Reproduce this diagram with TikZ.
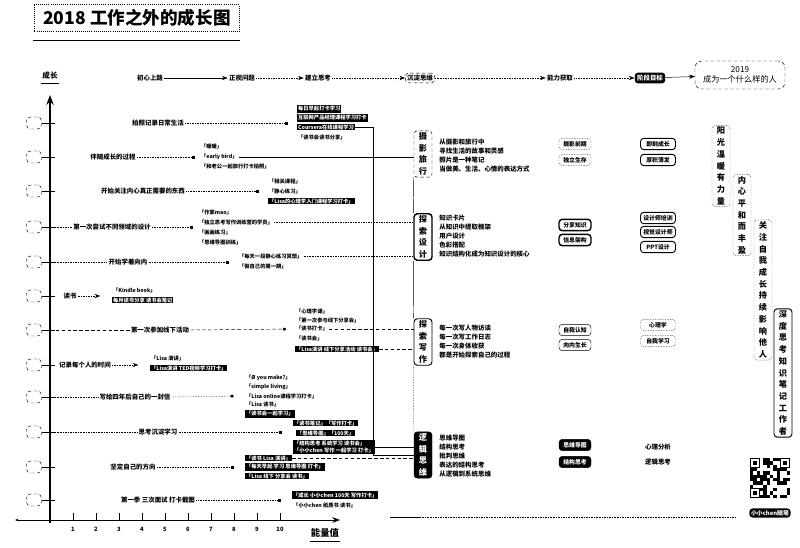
\documentclass[tikz,border=0pt]{standalone}
\usepackage{fontspec}
\setmainfont{Noto Sans CJK SC}
\usetikzlibrary{arrows.meta,positioning}

\begin{document}
\begin{tikzpicture}[x=0.3mm,y=-0.3mm,>=Stealth,
 every node/.style={font=\fontsize{5.5}{6.5}\selectfont,inner sep=1pt},
 icon/.style={draw,densely dashed,rounded corners=1.2mm,minimum width=4.5mm,minimum height=3.6mm},
 row/.style={font=\fontsize{5.5}{6.5}\selectfont\bfseries},
 item/.style={anchor=west,font=\fontsize{4.5}{5.5}\selectfont\bfseries,inner sep=0.8pt},
 blk/.style={item,fill=black,text=white},
 cat/.style={draw,align=center,rounded corners=1mm,inner sep=1.5pt,minimum width=5.4mm,font=\fontsize{7}{10}\selectfont\bfseries},
 tag/.style={draw,rounded corners=1mm,inner sep=1.2pt,minimum width=9.6mm,minimum height=3.4mm,font=\fontsize{5}{6}\selectfont\bfseries},
 lst/.style={anchor=west,align=left,font=\fontsize{5.5}{7.7}\selectfont\bfseries},
 flow/.style={font=\fontsize{5.5}{6.5}\selectfont\bfseries},
 sq/.style={-{Square[length=2.2pt,width=2.2pt]}}]

\useasboundingbox (0,0) rectangle (800,548);

\node[draw,densely dotted,thick,minimum width=61.5mm,minimum height=8mm,font=\fontsize{15}{16}\selectfont\bfseries] (title) at (137,18) {2018 工作之外的成长图};
\draw (33,40) -- (240,40);

\node[flow] (f1) at (150,78) {初心上路};
\node[flow] (f2) at (242,78) {正视问题};
\node[flow] (f3) at (318,78) {建立思考};
\node[flow,draw,densely dashed,rounded corners=1mm,inner sep=1.5pt] (f4) at (420,78) {沉淀思维};
\node[flow] (f5) at (560,78) {能力获取};
\node[flow,fill=black,text=white,rounded corners=1mm,inner sep=2pt] (f6) at (650,78) {阶段目标};
\node[draw,densely dashed,rounded corners=2mm,align=center,minimum width=27mm,minimum height=8.4mm,font=\fontsize{7}{9}\selectfont] (goal) at (740,75) {2019\\成为一个什么样的人};
\draw[->] (f1) -- (f2);
\draw[->,densely dotted] (f2) -- (f3);
\draw[->,densely dotted] (f3) -- (f4);
\draw[->,densely dotted] (f4) -- (f5);
\draw[->,densely dotted] (f5) -- (f6);
\draw[->] (f6) -- (goal);

\node[flow,font=\fontsize{6.5}{8}\selectfont\bfseries] (ylab) at (50,76) {成长};
\draw ([yshift=-2pt]ylab.south west) -- ([yshift=-2pt]ylab.south east);
\draw[->,very thick] (50,523) -- (50,95);
\draw[{Stealth[length=3pt]}-{Stealth},thick] (15,520) -- (340,520);
\foreach \i in {1,...,10} {
 \draw (50+23*\i,513) -- (50+23*\i,520);
 \node[font=\fontsize{5}{6}\selectfont\bfseries] at (50+23*\i,529) {\i};
}
\node[font=\fontsize{8}{9}\selectfont\bfseries] (xlab) at (325,533) {能量值};
\draw[thick] ([yshift=-2pt]xlab.south west) -- ([yshift=-2pt]xlab.south east);

\foreach \y [count=\i] in {123,157,191,227,262,296,330,365,397,432,467,500} {
 \node[icon] (i\i) at (34,\y) {};
 \coordinate (a\i) at (50,\y);
 \draw (i\i.east) -- ([xshift=1.5mm]a\i);
}

\node[row] (r1) at (158,123) {拍照记录日常生活};
\node[blk] (b11) at (297,109) {每日早起打卡学习};
\node[blk] (b12) at (297,118) {互联网产品经理课程学习打卡};
\node[blk] (b13) at (297,127) {Coursera在线课程学习};
\node[item] (l11) at (297,137) {「读书会读书分享」};
\draw[densely dotted,sq,shorten >=8pt] (r1.east) -- (r1.east -| b12.west);

\node[row] (r2) at (113,157) {伴随成长的过程};
\node[item] (l21) at (200,147) {「暖暖」};
\node[item] (l22) at (200,157) {「early bird」};
\node[item] (l23) at (200,167) {「和老公一起旅行打卡拍照」};
\draw[densely dotted,sq,shorten >=5pt] (r2.east) -- (l22.west);

\node[row] (r3) at (143,191) {开始关注内心真正需要的东西};
\node[item] (l31) at (268,181) {「相关课程」};
\node[item] (l32) at (268,191) {「静心练习」};
\node[blk] (b31) at (268,201) {「Lisa的心理学入门课程学习打卡」};
\draw[densely dotted,sq,shorten >=8pt] (r3.east) -- (l32.west);

\node[row] (r4) at (112,227) {第一次尝试不同领域的设计};
\node[item] (l41) at (198,212) {「作家mao」};
\node[item] (l42) at (198,222) {「独立思考写作训练营的学员」};
\node[item] (l43) at (198,232) {「画画练习」};
\node[item] (l44) at (198,242) {「思维导图训练」};
\draw[densely dotted] (a4) -- (r4.west);
\draw[densely dotted,sq,shorten >=5pt] (r4.east) -- (r4.east -| l42.west);

\node[row] (r5) at (128,262) {开始学着向内};
\node[item] (l51) at (238,256) {「每天一段静心练习冥想」};
\node[item] (l52) at (238,266) {「做自己的第一期」};
\draw[densely dotted] (a5) -- (r5.west);
\draw[densely dotted,sq,shorten >=8pt] (r5.east) -- (r5.east -| l51.west);

\node[row] (r6) at (70,296) {读书};
\node[item] (l61) at (112,290) {「Kindle book」};
\node[blk] (b61) at (112,300) {每月读书分享 读书会笔记};
\draw[densely dotted,->,shorten >=10pt] (r6.east) -- (r6.east -| l61.west);

\node[row] (r7) at (160,330) {第一次参加线下活动};
\node[item] (l71) at (295,311) {「心理学课」};
\node[item] (l72) at (295,320) {「第一次参与线下分享会」};
\node[item] (l73) at (295,329) {「读书打卡」};
\node[item] (l74) at (295,338) {「读书会」};
\node[blk] (b71) at (295,349) {「Lisa演讲 线下分享活动 读书会」};
\draw[densely dashed] (a7) -- (r7.west);
\draw[densely dashed,sq,shorten >=8pt] (r7.east) -- (l73.west);

\node[row] (r8) at (85,365) {记录每个人的时间};
\node[item] (l81) at (150,358) {「Lisa 演讲」};
\node[blk] (b81) at (150,368) {「Lisa演讲 TED视频学习打卡」};
\draw[densely dotted,->,shorten >=10pt] (r8.east) -- (r8.east -| l81.west);

\node[row] (r9) at (135,397) {写给四年后自己的一封信};
\node[item] (l91) at (245,378) {「Ø you make?」};
\node[item] (l92) at (245,387) {「simple living」};
\node[item] (l93) at (245,396) {「Lisa online课程学习打卡」};
\node[item] (l94) at (245,405) {「Lisa 读书」};
\node[blk] (b91) at (245,414) {「读书会一起学习」};
\draw[densely dotted] (a9) -- (r9.west);
\draw[densely dotted,sq,shorten >=10pt] (r9.east) -- (l93.west);

\node[row] (r10) at (158,432) {思考沉淀学习};
\node[blk] (b101) at (293,423) {「读书笔记」「写作打卡」};
\node[blk] (b102) at (296,433) {「思维导图」「100天」};
\node[blk,align=left] (b103) at (293,447) {「结构思考 系统学习 读书会」\\「小小chen 写作 一起学习 打卡」};
\draw[densely dotted] (a10) -- (r10.west);
\draw[densely dotted,sq,shorten >=10pt] (r10.east) -- (r10.east -| b101.west);

\node[row] (r11) at (133,467) {坚定自己的方向};
\node[blk] (b111) at (245,458) {「读书 Lisa 演讲」};
\node[blk] (b112) at (245,467) {「每天早起 学习 思维导图 打卡」};
\node[blk] (b113) at (245,476) {「Lisa 线下 分享会 读书」};
\draw[densely dotted,sq,shorten >=10pt] (r11.east) -- (b112.west);

\node[row] (r12) at (158,500) {第一季 三次面试 打卡截图};
\node[blk] (b121) at (292,495) {「成长 小小chen 100天 写作打卡」};
\node[item] (l121) at (292,505) {「小小chen 纸质书 读书」};
\draw[densely dotted,sq,shorten >=10pt] (r12.east) -- (r12.east -| b121.west);

\node[cat,densely dashed] (cA) at (423,154) {摄\\影\\旅\\行};
\node[cat,very thick] (cB) at (423,237) {探\\索\\设\\计};
\node[cat,thick] (cC) at (423,342) {探\\索\\写\\作};
\node[cat,fill=black,text=white] (cD) at (423,455) {逻\\辑\\思\\维};
\draw (cA.south west) -- (cB.north west);
\draw (cB.south west) -- (cC.north west);
\draw[densely dotted] (cC.south west) -- (cD.north west);

\coordinate (j1) at (373,455);
\draw (b13.east) -| (j1) -- (cD.west);
\draw (l22.east) -- (l22.east -| cA.west);
\draw[densely dotted] (l42.east) -- (l42.east -| cB.west);
\draw[densely dotted] (l51.east) -- (l51.east -| cB.west);
\draw[densely dashed] (l73.east) -- (l73.east -| cC.west);
\draw[densely dashed] (b71.east) -- (b71.east -| cC.west);
\draw (b103.east) -- (b103.east -| cD.west);
\draw[densely dashed] (b111.east) -- (b111.east -| cD.west);

\node[lst] (tA) at (438,156) {从摄影和旅行中\\寻找生活的故事和灵感\\照片是一种笔记\\当做美、生活、心情的表达方式};
\node[lst] (tB) at (438,236) {知识卡片\\从知识中提取框架\\用户设计\\色彩搭配\\知识结构化成为知识设计的核心};
\node[lst] (tC) at (438,342) {每一次写人物访谈\\每一次写工作日志\\每一次身体收获\\都是开始探索自己的过程};
\node[lst] (tD) at (438,456) {思维导图\\结构思考\\批判思维\\表达的结构思考\\从逻辑到系统思维};

\node[tag,densely dotted] (gA1) at (575,144) {摄影前期};
\node[tag,densely dotted] (gA2) at (575,160) {独立生存};
\node[tag,very thick] (gB1) at (575,225) {分享知识};
\node[tag,very thick] (gB2) at (575,240) {信息架构};
\node[tag] (gC1) at (575,330) {自我认知};
\node[tag] (gC2) at (575,345) {向内生长};
\node[tag,fill=black,text=white] (gD1) at (575,445) {思维导图};
\node[tag,fill=black,text=white] (gD2) at (575,462) {结构思考};

\node[tag,thick,minimum width=10.5mm] (hA1) at (658,144) {即刻成长};
\node[tag,thick,minimum width=10.5mm] (hA2) at (658,160) {厚积薄发};
\node[tag,thick,minimum width=10.5mm] (hB1) at (658,218) {设计师培训};
\node[tag,thick,minimum width=10.5mm] (hB2) at (658,232) {视觉设计师};
\node[tag,thick,minimum width=10.5mm] (hB3) at (658,247) {PPT设计};
\node[tag,densely dotted,minimum width=10.5mm] (hC1) at (658,325) {心理学};
\node[tag,densely dotted,minimum width=10.5mm] (hC2) at (658,341) {自我学习};
\node[flow] (hD1) at (658,447) {心理分析};
\node[flow] (hD2) at (658,462) {逻辑思考};

\node[cat,densely dotted] (p1) at (721,166) {阳\\光\\温\\暖\\有\\力\\量};
\node[cat,densely dotted] (p2) at (742,215) {内\\心\\平\\和\\而\\丰\\盈};
\node[cat,densely dotted] (p3) at (763,290) {关\\注\\自\\我\\成\\长\\持\\续\\影\\响\\他\\人};
\node[cat,thick] (p4) at (783,373) {深\\度\\思\\考\\知\\识\\笔\\记\\工\\作\\者};

\node[minimum size=12mm,inner sep=0pt] (qr) at (770,478) {};
\pgfmathsetseed{42}
\foreach \i in {0,...,11} {
 \foreach \j in {0,...,11} {
  \pgfmathrandominteger{\r}{0}{1}
  \ifnum\r=1 \fill (750+3.33*\i,458+3.33*\j) rectangle ++(3.33,3.33); \fi
 }
}
\foreach \cx/\cy in {750/458,780/458,750/488} {
 \fill[white] (\cx,\cy) rectangle ++(10,10);
 \draw[line width=1pt] (\cx+0.6,\cy+0.6) rectangle ++(8.8,8.8);
 \fill (\cx+3,\cy+3) rectangle ++(4,4);
}
\node[fill=black,text=white,rounded corners=1mm,inner sep=1.5pt,font=\fontsize{5}{6}\selectfont\bfseries] (brand) at (770,513) {小小chen随笔};

\draw (390,517) -- (420,517);
\draw[densely dotted] (420,517) -- (735,517);
\end{tikzpicture}
\end{document}
